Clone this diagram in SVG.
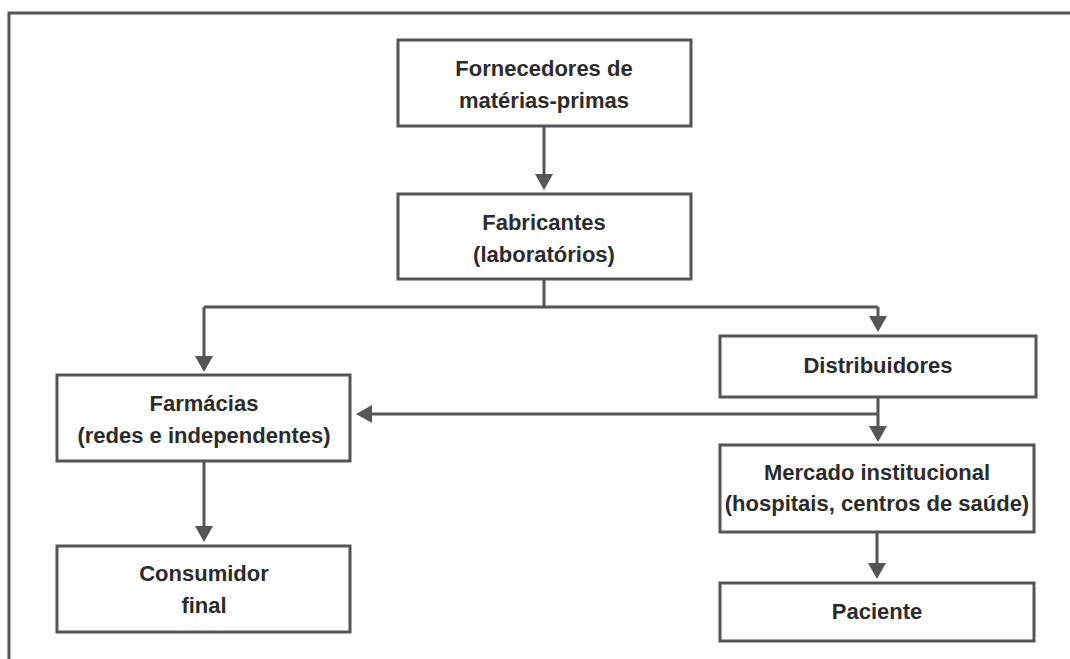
<svg xmlns="http://www.w3.org/2000/svg" width="1070" height="659" viewBox="0 0 1070 659">
<defs>
<style>
.box{fill:#fff;stroke:#555;stroke-width:3}
.t{font-family:"Liberation Sans",Arial,sans-serif;font-weight:bold;font-size:22px;fill:#2b2b2b;text-anchor:middle}
.c{fill:none;stroke:#555;stroke-width:3}
.frame{fill:none;stroke:#555;stroke-width:3}
</style>
<marker id="ah" markerWidth="10" markerHeight="10" viewBox="0 0 10 10" refX="10" refY="5" orient="auto" markerUnits="userSpaceOnUse">
<path d="M0,0 L10,5 L0,10 z" fill="#555"/>
</marker>
</defs>
<rect width="1070" height="659" fill="#fff"/>
<path class="frame" d="M9,659 L9,13 L1070,13"/>
<g id="connectors">
<path class="c" d="M544,126 L544,176"/>
<path d="M535,174 L553,174 L544,190 z" fill="#555"/>
<path class="c" d="M544,279 L544,307"/>
<path class="c" d="M204,307 L878,307"/>
<path class="c" d="M204,307 L204,358"/>
<path d="M195,356 L213,356 L204,372 z" fill="#555"/>
<path class="c" d="M878,307 L878,318"/>
<path d="M869,316 L887,316 L878,332 z" fill="#555"/>
<path class="c" d="M878,397 L878,428"/>
<path d="M869,426 L887,426 L878,442 z" fill="#555"/>
<path class="c" d="M878,414 L370,414"/>
<path d="M372,405 L372,423 L356,414 z" fill="#555"/>
<path class="c" d="M204,461 L204,528"/>
<path d="M195,526 L213,526 L204,542 z" fill="#555"/>
<path class="c" d="M877,532 L877,565"/>
<path d="M868,563 L886,563 L877,579 z" fill="#555"/>
</g>
<g id="fornecedores">
<rect class="box" x="398" y="40" width="293" height="86"/>
<text class="t" x="544" y="76">Fornecedores de</text>
<text class="t" x="544" y="108">matérias-primas</text>
</g>
<g id="fabricantes">
<rect class="box" x="398" y="194" width="293" height="85"/>
<text class="t" x="544" y="230">Fabricantes</text>
<text class="t" x="544" y="262">(laboratórios)</text>
</g>
<g id="farmacias">
<rect class="box" x="57" y="375" width="293" height="86"/>
<text class="t" x="204" y="411">Farmácias</text>
<text class="t" x="204" y="443">(redes e independentes)</text>
</g>
<g id="consumidor">
<rect class="box" x="57" y="546" width="293" height="86"/>
<text class="t" x="204" y="581">Consumidor</text>
<text class="t" x="204" y="613">final</text>
</g>
<g id="distribuidores">
<rect class="box" x="720" y="336" width="316" height="61"/>
<text class="t" x="878" y="373">Distribuidores</text>
</g>
<g id="mercado">
<rect class="box" x="720" y="445" width="314" height="87"/>
<text class="t" x="877" y="480">Mercado institucional</text>
<text class="t" x="877" y="511">(hospitais, centros de saúde)</text>
</g>
<g id="paciente">
<rect class="box" x="720" y="583" width="314" height="58"/>
<text class="t" x="877" y="619">Paciente</text>
</g>
</svg>
